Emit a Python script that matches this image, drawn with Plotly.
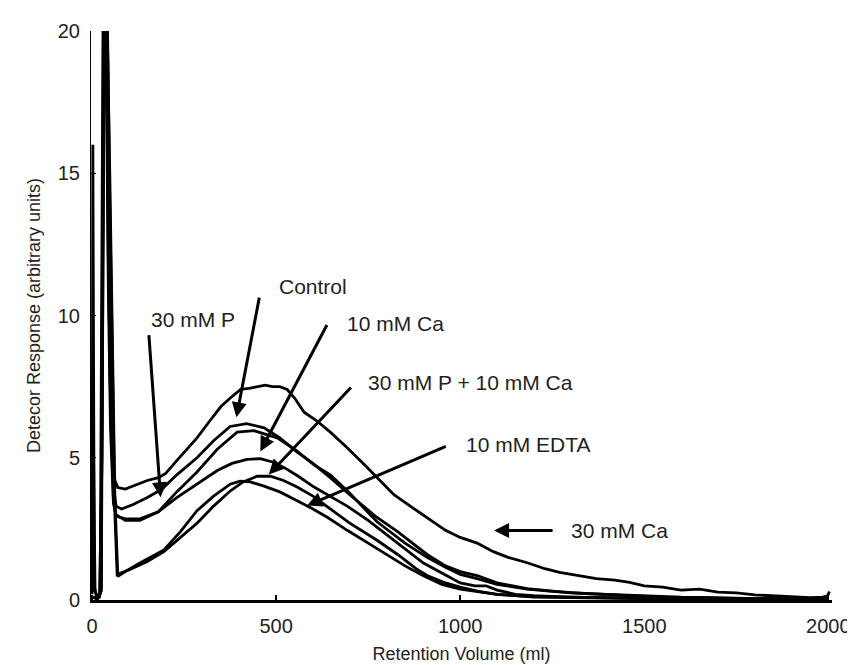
import plotly.graph_objects as go

# ---------------- data ----------------
x_tick_vals = [0, 500, 1000, 1500, 2000]
y_tick_vals = [0, 5, 10, 15, 20]

# 30 mM Ca (top curve)
ca30_x = [0, 15, 24, 32, 38, 44, 50, 55, 62, 70, 90, 120, 150, 180, 200, 230, 260, 285, 320, 350, 380, 403,
          430, 450, 470, 490, 510, 530, 550, 576, 610, 647, 693, 740, 774, 820, 870, 910, 960, 1000, 1046,
          1090, 1130, 1182, 1230, 1270, 1318, 1370, 1420, 1460, 1500, 1550, 1600, 1650, 1700, 1750, 1800,
          1850, 1900, 1950, 1985, 1998, 2003]
ca30_y = [0.1, 0.05, 0.3, 21, 21, 12, 7.0, 5.0, 4.2, 3.95, 3.9, 4.05, 4.2, 4.3, 4.45, 4.9, 5.35, 5.7, 6.3, 6.8, 7.15, 7.4,
          7.45, 7.5, 7.55, 7.5, 7.5, 7.4, 7.1, 6.6, 6.3, 5.9, 5.35, 4.75, 4.3, 3.7, 3.25, 2.9, 2.45, 2.2, 2.0,
          1.7, 1.5, 1.31, 1.1, 0.97, 0.86, 0.75, 0.7, 0.62, 0.5, 0.45, 0.35, 0.38, 0.28, 0.25, 0.18,
          0.15, 0.1, 0.08, 0.1, 0.15, 0.3]

# Control
ctrl_x = [0, 15, 25, 33, 39, 45, 50, 58, 65, 80, 110, 150, 190, 230, 285, 330, 375, 420, 467, 510, 557, 600,
          647, 700, 774, 830, 910, 960, 1000, 1046, 1100, 1182, 1250, 1300, 1400, 1500, 1600, 1700, 1800,
          1900, 2000]
ctrl_y = [0.1, 0.05, 0.4, 21, 21, 13, 8.0, 4.0, 3.3, 3.2, 3.35, 3.6, 3.9, 4.4, 5.0, 5.6, 6.1, 6.2, 6.05, 5.7, 5.2, 4.8,
          4.3, 3.7, 2.9, 2.4, 1.6, 1.2, 1.0, 0.86, 0.6, 0.4, 0.3, 0.25, 0.2, 0.15, 0.1, 0.08, 0.05,
          0.05, 0.05]

# 10 mM Ca
ca10_x = [0, 15, 24, 32, 38, 45, 50, 58, 65, 90, 130, 180, 230, 285, 340, 394, 440, 503, 550, 603, 647, 700,
          774, 850, 910, 960, 1000, 1046, 1100, 1182, 1250, 1350, 1450, 1550, 1700, 1850, 2000]
ca10_y = [0.1, 0.05, 0.3, 21, 21, 12, 7.0, 3.5, 2.95, 2.85, 2.85, 3.1, 3.8, 4.5, 5.3, 5.9, 5.95, 5.7, 5.3, 4.75, 4.4, 3.75,
          2.75, 2.0, 1.5, 1.15, 0.9, 0.75, 0.55, 0.38, 0.3, 0.22, 0.15, 0.1, 0.06, 0.04, 0.03]

# 30 mM P + 10 mM Ca
pca_x = [0, 15, 24, 31, 37, 44, 50, 58, 65, 90, 130, 180, 230, 285, 340, 380, 421, 457, 490, 521, 560, 603,
         640, 693, 750, 800, 850, 900, 950, 1000, 1040, 1070, 1100, 1150, 1200, 1300, 1500, 2000]
pca_y = [0.1, 0.05, 0.3, 21, 21, 11, 6.0, 3.4, 3.0, 2.8, 2.8, 3.1, 3.6, 4.07, 4.55, 4.8, 4.94, 4.97, 4.85, 4.66, 4.35, 3.97,
         3.7, 3.3, 2.8, 2.3, 1.8, 1.3, 0.95, 0.6, 0.5, 0.5, 0.35, 0.2, 0.15, 0.1, 0.05, 0.02]

# 30 mM P
p30_x = [0, 3, 8, 15, 22, 30, 36, 42, 48, 55, 62, 68, 80, 103, 150, 195, 240, 285, 330, 375, 410, 448, 484,
         520, 557, 600, 647, 700, 774, 830, 880, 910, 960, 1000, 1050, 1100, 1200, 1400, 1700, 2000]
p30_y = [0.2, 6.2, 0.3, 0.1, 0.2, 21, 21, 20, 14, 8.0, 3.0, 0.9, 0.95, 1.07, 1.35, 1.7, 2.2, 2.7, 3.3, 3.83, 4.15, 4.35, 4.35,
         4.2, 3.97, 3.65, 3.2, 2.7, 2.1, 1.6, 1.1, 0.86, 0.6, 0.45, 0.3, 0.2, 0.12, 0.08, 0.05, 0.03]

# 10 mM EDTA
edta_x = [0, 2, 6, 12, 20, 27, 33, 40, 48, 55, 62, 70, 90, 130, 195, 240, 285, 330, 375, 402, 430, 467, 510,
          557, 600, 640, 693, 750, 800, 850, 900, 950, 1000, 1050, 1100, 1200, 1500, 2000]
edta_y = [0.3, 16, 0.5, 0.1, 0.1, 5.0, 21, 21, 15, 9.0, 3.5, 0.83, 1.0, 1.3, 1.76, 2.4, 3.14, 3.65, 4.07, 4.18, 4.15, 4.0, 3.8,
          3.49, 3.2, 2.9, 2.45, 2.0, 1.6, 1.2, 0.85, 0.55, 0.38, 0.3, 0.2, 0.1, 0.05, 0.02]

# label text, arrow tip (x, y), arrow tail (x, y), text position (x, y)
labels = ["30 mM P", "Control", "10 mM Ca", "30 mM P + 10 mM Ca", "10 mM EDTA", "30 mM Ca"]
arrow_tip_x = [186, 392, 457, 480, 584, 1092]
arrow_tip_y = [3.61, 6.42, 5.22, 4.41, 3.32, 2.44]
arrow_tail_x = [154, 455, 640, 707, 965, 1255]
arrow_tail_y = [9.36, 10.68, 9.72, 7.52, 5.42, 2.44]
text_x = [155, 503, 688, 743, 1010, 1295]
text_y = [9.86, 11.03, 9.72, 7.63, 5.47, 2.44]

# ---------------- figure ----------------
FONT = "Liberation Sans, Arial, sans-serif"
TXT = "#231f20"

fig = go.Figure()
series = [(ca30_x, ca30_y), (ctrl_x, ctrl_y), (ca10_x, ca10_y), (pca_x, pca_y), (p30_x, p30_y), (edta_x, edta_y)]
for sx, sy in series:
    fig.add_trace(go.Scatter(x=sx, y=sy, mode="lines", line=dict(color="black", width=2.8),
                             showlegend=False, hoverinfo="skip"))

for i, lab in enumerate(labels):
    fig.add_annotation(x=arrow_tip_x[i], y=arrow_tip_y[i], ax=arrow_tail_x[i], ay=arrow_tail_y[i],
                       xref="x", yref="y", axref="x", ayref="y", text="", showarrow=True,
                       arrowhead=2, arrowsize=1.0, arrowwidth=3, arrowcolor="black", standoff=0)
    fig.add_annotation(x=text_x[i], y=text_y[i], xref="x", yref="y", text=lab, showarrow=False,
                       xanchor="left", yanchor="middle", font=dict(family=FONT, size=21, color=TXT))

fig.update_layout(
    width=855, height=665,
    margin=dict(l=83, r=27, t=18, b=67),
    paper_bgcolor="white", plot_bgcolor="white",
    font=dict(family=FONT, size=20, color=TXT),
    showlegend=False,
)
fig.update_xaxes(range=[-3, 2010], tickvals=x_tick_vals, ticks="inside", ticklen=5, tickwidth=1.5,
                 tickcolor="black", showline=True, linewidth=2.5, linecolor="black", showgrid=False,
                 zeroline=False, ticklabelstandoff=6,
                 title=dict(text="Retention Volume (ml)", font=dict(family=FONT, size=18, color=TXT), standoff=12))
fig.update_yaxes(range=[0, 20], tickvals=y_tick_vals, ticks="inside", ticklen=5, tickwidth=1,
                 tickcolor="black", showline=True, linewidth=1, linecolor="black", showgrid=False,
                 zeroline=False, ticklabelstandoff=6,
                 title=dict(text="Detecor Response (arbitrary units)", font=dict(family=FONT, size=18, color=TXT), standoff=12))

fig.write_html("out.html")
